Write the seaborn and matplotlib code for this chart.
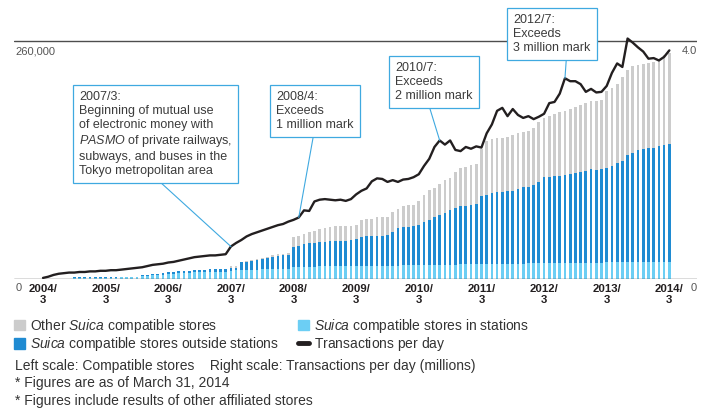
import numpy as np
import pandas as pd
import matplotlib
matplotlib.use("Agg")
import matplotlib.pyplot as plt
from matplotlib.patches import Patch
from matplotlib.lines import Line2D
import seaborn as sns

# monthly data, 2004/3 .. 2014/3 (stores in thousands, transactions in millions/day)
stores_in_stations = [
    0, 0, 0, 0, 0, 0,
    0.6, 0.6, 0.6, 0.6, 0.6, 0.6, 0.6, 0.6, 0.6,
    2.0, 2.0, 2.0, 2.0,
    2.5, 2.8, 3.3, 3.4, 4.2, 5.0, 5.0, 5.8, 5.8, 5.9, 6.6, 7.0, 7.2, 7.3, 7.3, 7.3, 7.4,
    8.0, 8.8, 9.1, 9.1, 9.5, 9.5, 9.9, 9.9, 10.2, 10.2, 10.2, 10.2,
    12.8, 13.0, 13.0, 13.1, 13.1, 13.2, 13.2, 13.3, 13.3, 13.3, 13.4, 13.4,
    13.6, 13.7, 13.8, 13.8, 13.9, 14.0, 14.0, 14.1, 14.2, 14.3, 14.4, 14.5,
    14.7, 14.8, 14.9, 15.0, 15.1, 15.2, 15.3, 15.3, 15.4, 15.4, 15.5, 15.5,
    16.0, 16.1, 16.1, 16.2, 16.2, 16.3, 16.3, 16.4, 16.4, 16.5, 16.5, 16.6,
    16.9, 17.0, 17.0, 17.1, 17.1, 17.2, 17.2, 17.3, 17.3, 17.4, 17.4, 17.5,
    17.7, 17.7, 17.8, 17.8, 17.9, 17.9, 18.0, 18.0, 18.0, 18.1, 18.1, 18.2, 18.2,
]
stores_outside = [
    0, 0, 0, 0, 0, 0,
    1.2, 1.2, 1.2, 1.2, 1.2, 1.2, 1.2, 1.2, 1.2,
    0, 0, 0, 0,
    0.8, 0.9, 1.1, 1.0, 1.3, 1.6, 1.6, 1.9, 1.9, 1.8, 2.2, 2.5, 2.4, 2.6, 2.6, 2.6, 2.5,
    3.3, 2.5, 8.8, 9.1, 9.9, 10.6, 12.0, 13.1, 13.6, 14.3, 15.4, 15.4,
    22.1, 22.7, 24.9, 26.2, 26.2, 26.8, 27.2, 27.8, 27.8, 27.8, 27.7, 28.8,
    29.4, 32.2, 32.8, 32.8, 32.7, 32.6, 33.7, 37.3, 40.8, 41.8, 42.5, 43.1,
    44.0, 47.6, 49.3, 52.1, 54.6, 56.3, 59.9, 61.8, 63.6, 64.4, 65.4, 66.1,
    74.1, 75.9, 77.7, 78.4, 79.1, 79.4, 80.1, 82.2, 83.7, 84.3, 85.8, 89.4,
    94.2, 94.1, 95.2, 95.1, 95.9, 96.9, 98.7, 99.7, 100.5, 102.2, 101.1, 102.1,
    103.8, 105.6, 109.2, 111.0, 117.6, 120.1, 122.6, 123.7, 124.8, 125.5, 127.3, 128.3, 129.8,
]
stores_other = [0] * 36 + [
    2.2, 2.2, 0.4, 1.2, 1.4, 1.8, 1.1, 0.8, 1.8, 2.9, 1.8, 1.9,
    10.3, 10.9, 10.9, 11.3, 13.2, 13.9, 14.6, 15.0, 16.5, 16.5, 16.5, 15.4,
    15.3, 18.3, 18.7, 18.7, 20.5, 21.2, 20.1, 21.9, 20.9, 23.4, 23.7, 23.0,
    26.7, 29.2, 32.9, 31.8, 34.0, 36.6, 34.7, 39.5, 42.3, 42.4, 43.2, 44.3,
    51.6, 59.0, 59.0, 59.3, 58.6, 59.7, 61.2, 60.5, 60.1, 61.2, 62.7, 65.2,
    64.9, 67.5, 68.2, 70.1, 71.1, 71.9, 72.6, 73.7, 74.4, 74.8, 76.7, 76.3,
    84.7, 85.9, 86.6, 92.2, 92.9, 94.8, 93.3, 93.3, 93.7, 94.0, 95.9, 98.5, 99.5,
]
transactions = [
    0.01, 0.03, 0.06, 0.08, 0.09, 0.10, 0.10, 0.11, 0.11, 0.12, 0.12, 0.13,
    0.13, 0.14, 0.14, 0.15, 0.16, 0.17, 0.18, 0.19, 0.21, 0.23, 0.24, 0.25,
    0.27, 0.28, 0.30, 0.32, 0.34, 0.36, 0.37, 0.38, 0.39, 0.39, 0.40, 0.41,
    0.54, 0.60, 0.65, 0.71, 0.75, 0.78, 0.81, 0.84, 0.87, 0.90, 0.92, 0.96,
    0.99, 1.03, 1.15, 1.14, 1.30, 1.33, 1.34, 1.33, 1.32, 1.33, 1.31, 1.34,
    1.42, 1.48, 1.52, 1.64, 1.69, 1.68, 1.63, 1.66, 1.63, 1.67, 1.68, 1.71,
    1.76, 1.90, 2.02, 2.22, 2.33, 2.26, 2.33, 2.17, 2.15, 2.22, 2.19, 2.23,
    2.21, 2.45, 2.60, 2.83, 2.88, 2.74, 2.86, 2.76, 2.71, 2.74, 2.69, 2.73,
    2.78, 2.96, 2.98, 3.12, 3.38, 3.33, 3.33, 3.28, 3.15, 3.20, 3.14, 3.15,
    3.25, 3.47, 3.63, 3.57, 4.05, 3.98, 3.90, 3.83, 3.71, 3.72, 3.68, 3.74,
    3.85,
]
tick_labels = ["2004/\n3", "2005/\n3", "2006/\n3", "2007/\n3", "2008/\n3", "2009/\n3",
               "2010/\n3", "2011/\n3", "2012/\n3", "2013/\n3", "2014/\n3"]

sns.set_style("white")
plt.rcParams["font.family"] = ["Liberation Sans", "DejaVu Sans"]
plt.rcParams["mathtext.fontset"] = "custom"
plt.rcParams["mathtext.rm"] = "Liberation Sans"
plt.rcParams["mathtext.it"] = "Liberation Sans:italic"

GRAY = "#cccccc"
BLUE = "#1f8bd2"
LIGHT = "#6ccef4"
BLACK = "#231f20"
EDGE = "#3fa9e0"
TXT = "#3c3c3c"

df = pd.DataFrame({
    "month": np.arange(len(transactions)),
    "in_st": stores_in_stations,
    "outside": stores_outside,
    "other": stores_other,
    "trans": transactions,
})
df["top_blue"] = df["in_st"] + df["outside"]
df["total"] = df["top_blue"] + df["other"]

W, H = 710, 409
fig = plt.figure(figsize=(W / 100, H / 100), dpi=100)
ax = fig.add_axes([14 / W, (H - 278.5) / H, 683 / W, 258.5 / H])

for col, c in [("total", GRAY), ("top_blue", BLUE), ("in_st", LIGHT)]:
    sns.barplot(data=df, x="month", y=col, color=c, width=0.52, saturation=1,
                linewidth=0, errorbar=None, ax=ax)

ax2 = ax.twinx()
sns.lineplot(data=df, x="month", y="trans", color=BLACK, lw=1.7, ax=ax2)

ax.set_ylim(0, 260 * 258.5 / 237)
ax2.set_ylim(0, 4.0 * 258.5 / 237)
ax.set_xlim(-5.56, 125.3)
for a in (ax, ax2):
    a.set_xlabel("")
    a.set_ylabel("")
    a.set_yticks([])
    for s in a.spines.values():
        s.set_visible(False)

ax.axhline(260, color="#4d4d4d", lw=1.0)
ax.axhline(0, color="#4d4d4d", lw=1.0)

ax.set_xticks(range(0, 121, 12))
ax.set_xticklabels(tick_labels, fontweight="bold", fontsize=8.2, color=BLACK, linespacing=1.1)
ax.tick_params(axis="x", length=0, pad=4.2)

# scale labels
fig.text(15 / W, 1 - 52 / H, "260,000", fontsize=8, color="#555555", va="center")
fig.text(16 / W, 1 - 288 / H, "0", fontsize=8, color="#555555", va="center")
fig.text(697 / W, 1 - 51 / H, "4.0", fontsize=8, color="#555555", va="center", ha="right")
fig.text(697 / W, 1 - 288 / H, "0", fontsize=8, color="#555555", va="center", ha="right")

notes = [
    ("2007/3:\nBeginning of mutual use\nof electronic money with\n"
     "$\\it{PASMO}$ of private railways,\nsubways, and buses in the\nTokyo metropolitan area",
     36, (79.3, 91.3), 0.49),
    ("2008/4:\nExceeds\n1 million mark", 49, (276.3, 91.3), 0.49),
    ("2010/7:\nExceeds\n2 million mark", 76, (395.3, 62.3), 0.42),
    ("2012/7:\nExceeds\n3 million mark", 100, (513.3, 14.3), 0.69),
]
for txt, m, (px, py), rp in notes:
    ax2.annotate(txt, xy=(m, transactions[m]), xycoords="data",
                 xytext=(px, H - py), textcoords="figure pixels",
                 ha="left", va="top", fontsize=9, color=TXT, linespacing=1.2,
                 bbox=dict(boxstyle="square,pad=0.5", fc="white", ec=EDGE, lw=0.9),
                 arrowprops=dict(arrowstyle="-", color=EDGE, lw=0.8, relpos=(rp, 0),
                                 shrinkA=0, shrinkB=0),
                 annotation_clip=False, zorder=5)

handles = [Patch(color=GRAY), Patch(color=BLUE), Patch(color=LIGHT),
           Line2D([0], [0], color=BLACK, lw=3.5)]
labels = ["Other $\\it{Suica}$ compatible stores",
          "$\\it{Suica}$ compatible stores outside stations",
          "$\\it{Suica}$ compatible stores in stations",
          "$\\mathregular{Transactions\\ per\\ day}$"]
fig.legend(handles, labels, loc="upper left", bbox_to_anchor=(14 / W, 1 - 317 / H),
           ncol=2, frameon=False, fontsize=10, handlelength=0.8, handleheight=0.8,
           handletextpad=0.35, columnspacing=1.35, labelspacing=0.02, borderpad=0,
           borderaxespad=0, labelcolor="#333333")

fig.text(15 / W, 1 - 366 / H,
         "Left scale: Compatible stores    Right scale: Transactions per day (millions)",
         fontsize=10, color="#333333", va="center")
fig.text(15 / W, 1 - 383 / H, "* Figures are as of March 31, 2014",
         fontsize=10, color="#333333", va="center")
fig.text(15 / W, 1 - 401 / H, "* Figures include results of other affiliated stores",
         fontsize=10, color="#333333", va="center")

fig.savefig("out.png", dpi=100)
